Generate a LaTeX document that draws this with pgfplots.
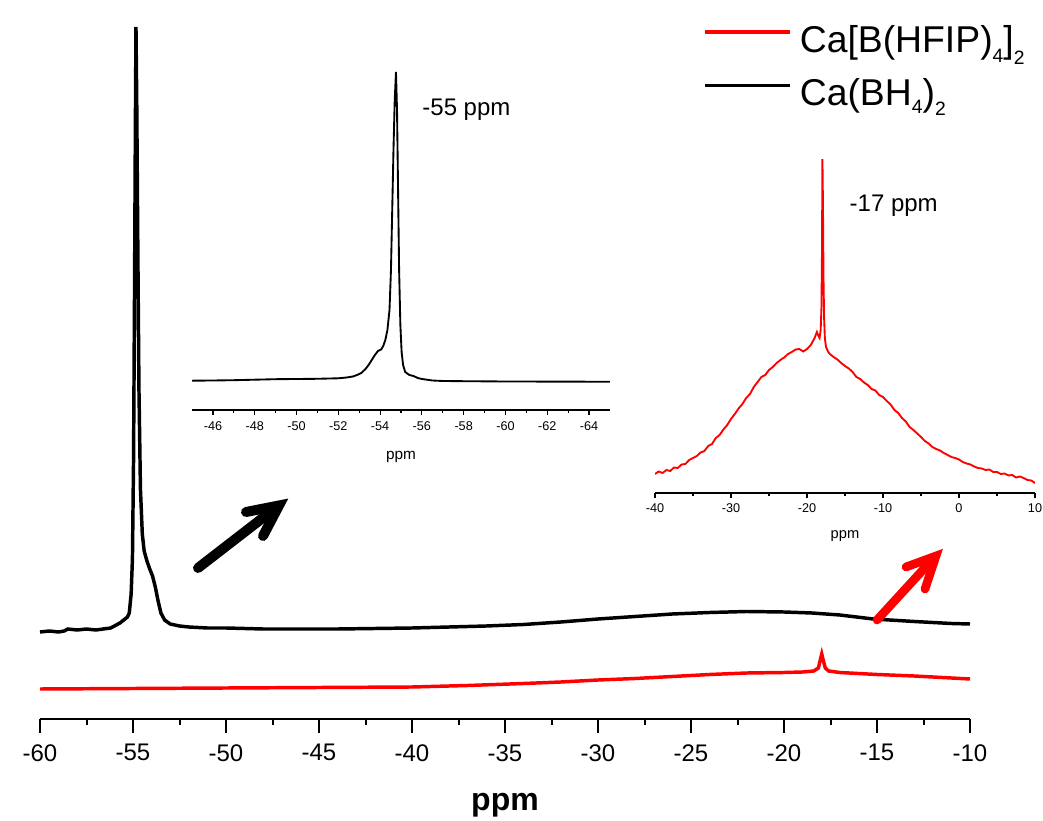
\documentclass[border=0pt]{standalone}
\usepackage{fontspec}
\setmainfont{Liberation Sans}
\usepackage{pgfplots}
\pgfplotsset{compat=1.18}
\usetikzlibrary{arrows.meta}
\newcommand\sub[2][7.5pt]{\raisebox{-#1}{\fontsize{14.5}{14.5}\selectfont #2}}

\pgfplotstableread{
x y
-60 87
-59.5 88
-59 87
-58.7 88
-58.5 90
-58 89
-57.5 90
-57 89
-56.6 90
-56.2 91
-55.9 94
-55.7 96
-55.5 99
-55.3 102
-55.2 106
-55.1 125
-55.03 160
-54.97 260
-54.92 420
-54.87 600
-54.84 692
-54.8 620
-54.74 470
-54.68 330
-54.6 230
-54.5 185
-54.4 168
-54.25 158
-54.1 150
-53.95 143
-53.8 132
-53.65 118
-53.5 106
-53.3 99
-53.0 95
-52.5 93
-52 92
-51 91
-50 91
-48 90
-46 90
-44 90
-42 90.5
-40 91
-38 92
-36 93
-34 94.5
-32 97
-30 100
-28 102.5
-26 105
-24 106.5
-22 107.5
-20 107
-18.5 106
-17 104
-15.2 100
-13 97.5
-11 95.5
-10 95
}\blackmain

\pgfplotstableread{
x y
-60 30
-55 30.5
-50 31
-45 31.5
-40 32
-37 33.5
-34 35.5
-32 37
-30 39
-28 40.5
-26 42.5
-24 44.5
-22 46
-20 46.5
-19 47
-18.4 48
-18.15 51
-18.05 59
-17.97 65
-17.88 58
-17.78 51
-17.6 48
-17 46.5
-15 44.5
-13 43
-11 41
-10 40
}\redmain

\pgfplotstableread{
x y
-45 29.3
-46 29.5
-47 29.8
-48 30.3
-49 30.8
-50 31
-51 31.2
-52 31.7
-52.4 32.5
-52.7 33.5
-52.9 35
-53.1 37
-53.3 41
-53.45 45
-53.6 50
-53.75 55
-53.9 59
-54.05 60.5
-54.15 64
-54.25 70
-54.35 80
-54.45 100
-54.52 140
-54.58 200
-54.64 260
-54.7 310
-54.76 338
-54.81 300
-54.86 220
-54.91 140
-54.97 85
-55.03 58
-55.1 45
-55.2 38
-55.4 35
-55.6 34
-55.8 32
-56 31
-56.5 29.5
-57 29
-58 28.8
-60 28.5
-62 28.4
-64 28.3
-65 28.3
}\blackinset

\pgfplotstableread{
x y
-40 19
-39.5 21.5
-39 20
-38.5 23
-38 22
-37.5 25.5
-37 25
-36.5 28.5
-36 29
-35.5 33
-35 35
-34.5 37
-34 40.5
-33.5 42
-33 47
-32.5 49
-32 55
-31.5 58
-31 63.5
-30.5 68
-30 74
-29.5 79
-29 84.5
-28.5 89
-28 95
-27.5 99
-27 106
-26.5 111
-26 116
-25.5 118
-25 123
-24.5 126
-24 130
-23.5 133
-23 135.5
-22.5 139
-22 141
-21.5 143.5
-21 144
-20.5 141.5
-20 144
-19.5 148
-19 155
-18.7 161
-18.5 157
-18.35 155
-18.2 163
-18.1 185
-18.03 240
-17.97 335
-17.9 290
-17.83 215
-17.75 175
-17.65 155
-17.5 146
-17.2 141
-17 139
-16.5 136
-16 133.5
-15.5 130
-15 127
-14.5 124.5
-14 121
-13.5 116
-13 114
-12.5 110.5
-12 108
-11.5 104
-11 102.5
-10.5 98
-10 96
-9.5 92
-9 88.5
-8.5 83
-8 80
-7.5 75
-7 71.5
-6.5 66
-6 63
-5.5 59.5
-5 56
-4.5 52
-4 49.5
-3.5 46
-3 44
-2.5 42.5
-2 40
-1.5 38
-1 36
-0.5 35
0 33.5
0.5 31
1 29.5
1.5 28.5
2 26.5
2.5 25
3 24.5
3.5 23
4 23.5
4.5 21
5 21
5.5 19
6 19.5
6.5 17.5
7 18
7.5 15.5
8 16.5
8.5 15
9 13
9.5 12.5
10 10
}\redinset

\begin{document}
\begin{tikzpicture}
\path[use as bounding box] (0pt,0pt) rectangle (782.25pt,615.75pt);

% main axis
\begin{axis}[
  at={(30pt,76.5pt)}, anchor=south west, scale only axis,
  width=697.5pt, height=525pt,
  xmin=-60, xmax=-10, ymin=0, ymax=700,
  axis x line=bottom, axis y line=none,
  axis line style={-, line width=2pt},
  xtick={-60,-55,-50,-45,-40,-35,-30,-25,-20,-15,-10},
  minor x tick num=1, tick align=outside,
  major tick length=10.5pt, minor tick length=4.5pt,
  major tick style={line width=1.5pt, black},
  minor tick style={line width=1.5pt, black},
  /pgf/number format/assume math mode=true,
  tick label style={font=\fontsize{18}{20}\selectfont},
  xticklabel shift=5pt,
  xlabel={ppm},
  every axis x label/.style={at={(axis description cs:0.5,0)}, anchor=center, yshift=-65pt, font=\fontsize{24}{26}\selectfont\bfseries},
  clip=false,
  legend style={at={(axis description cs:0.7129,0.991)}, anchor=north west,
    draw=none, fill=none, inner sep=0pt, row sep=18pt, column sep=6pt,
    font=\fontsize{28}{30}\selectfont, nodes={inner sep=0pt}},
  legend cell align=left,
  legend image code/.code={\draw[#1, line width=2.4pt] (0pt,6pt) -- (64pt,6pt); \path[draw=none,fill=none] (0pt,-6pt) -- (64pt,-6pt);},
]
\addplot[red, line width=2.6pt] table {\redmain};
\addlegendentry{Ca[B(HFIP)\sub{4}]\sub[9pt]{2}}
\addplot[black, line width=2.6pt] table {\blackmain};
\addlegendentry{Ca(BH\sub[6pt]{4})\sub{2}}
\end{axis}

% black inset
\begin{axis}[
  at={(144.075pt,308.25pt)}, anchor=south west, scale only axis,
  width=313.35pt, height=262.5pt,
  x dir=reverse, xmin=-65, xmax=-45, ymin=0, ymax=350,
  axis x line=bottom, axis y line=none,
  axis line style={-, line width=1pt},
  xtick={-64,-62,-60,-58,-56,-54,-52,-50,-48,-46},
  minor x tick num=1, tick align=outside,
  major tick length=3.75pt, minor tick length=2pt,
  major tick style={line width=0.8pt, black},
  minor tick style={line width=0.8pt, black},
  /pgf/number format/assume math mode=true,
  tick label style={font=\fontsize{9.5}{11}\selectfont},
  xticklabel shift=1.5pt,
  xlabel={ppm},
  every axis x label/.style={at={(axis description cs:0.5,0)}, anchor=center, yshift=-35.5pt, font=\fontsize{11.5}{13}\selectfont},
  clip=false,
]
\addplot[black, line width=1.4pt] table {\blackinset};
\node[anchor=west, font=\fontsize{18}{20}\selectfont] at (axis cs:-55.8,300) {-55 ppm};
\end{axis}

% red inset
\begin{axis}[
  at={(491.25pt,246pt)}, anchor=south west, scale only axis,
  width=285pt, height=249.75pt,
  xmin=-40, xmax=10, ymin=0, ymax=333,
  axis x line=bottom, axis y line=none,
  axis line style={-, line width=1pt},
  xtick={-40,-30,-20,-10,0,10},
  minor x tick num=1, tick align=outside,
  major tick length=3.75pt, minor tick length=2pt,
  major tick style={line width=0.8pt, black},
  minor tick style={line width=0.8pt, black},
  /pgf/number format/assume math mode=true,
  tick label style={font=\fontsize{9.5}{11}\selectfont},
  xticklabel shift=1pt,
  xlabel={ppm},
  every axis x label/.style={at={(axis description cs:0.5,0)}, anchor=center, yshift=-32.5pt, font=\fontsize{11}{13}\selectfont},
]
\addplot[red, line width=1.4pt] table {\redinset};
\end{axis}

\begin{scope}[x=0.75pt, y=-0.75pt, shift={(0pt,615.75pt)}]
\node[anchor=west, font=\fontsize{18}{20}\selectfont] at (845,206) {-17 ppm};
\draw[black, line width=7.5pt, line cap=round] (198,568) -- (273,510);
\draw[black, line width=7.5pt, line cap=round, line join=miter] (246,512) -- (279,505.5) -- (263,536);
\draw[red, line width=6.5pt, line cap=round] (877,620) -- (932,560);
\draw[red, line width=6.5pt, line cap=round, line join=miter] (906,567) -- (936,556) -- (925,589);
\end{scope}
\end{tikzpicture}
\end{document}
